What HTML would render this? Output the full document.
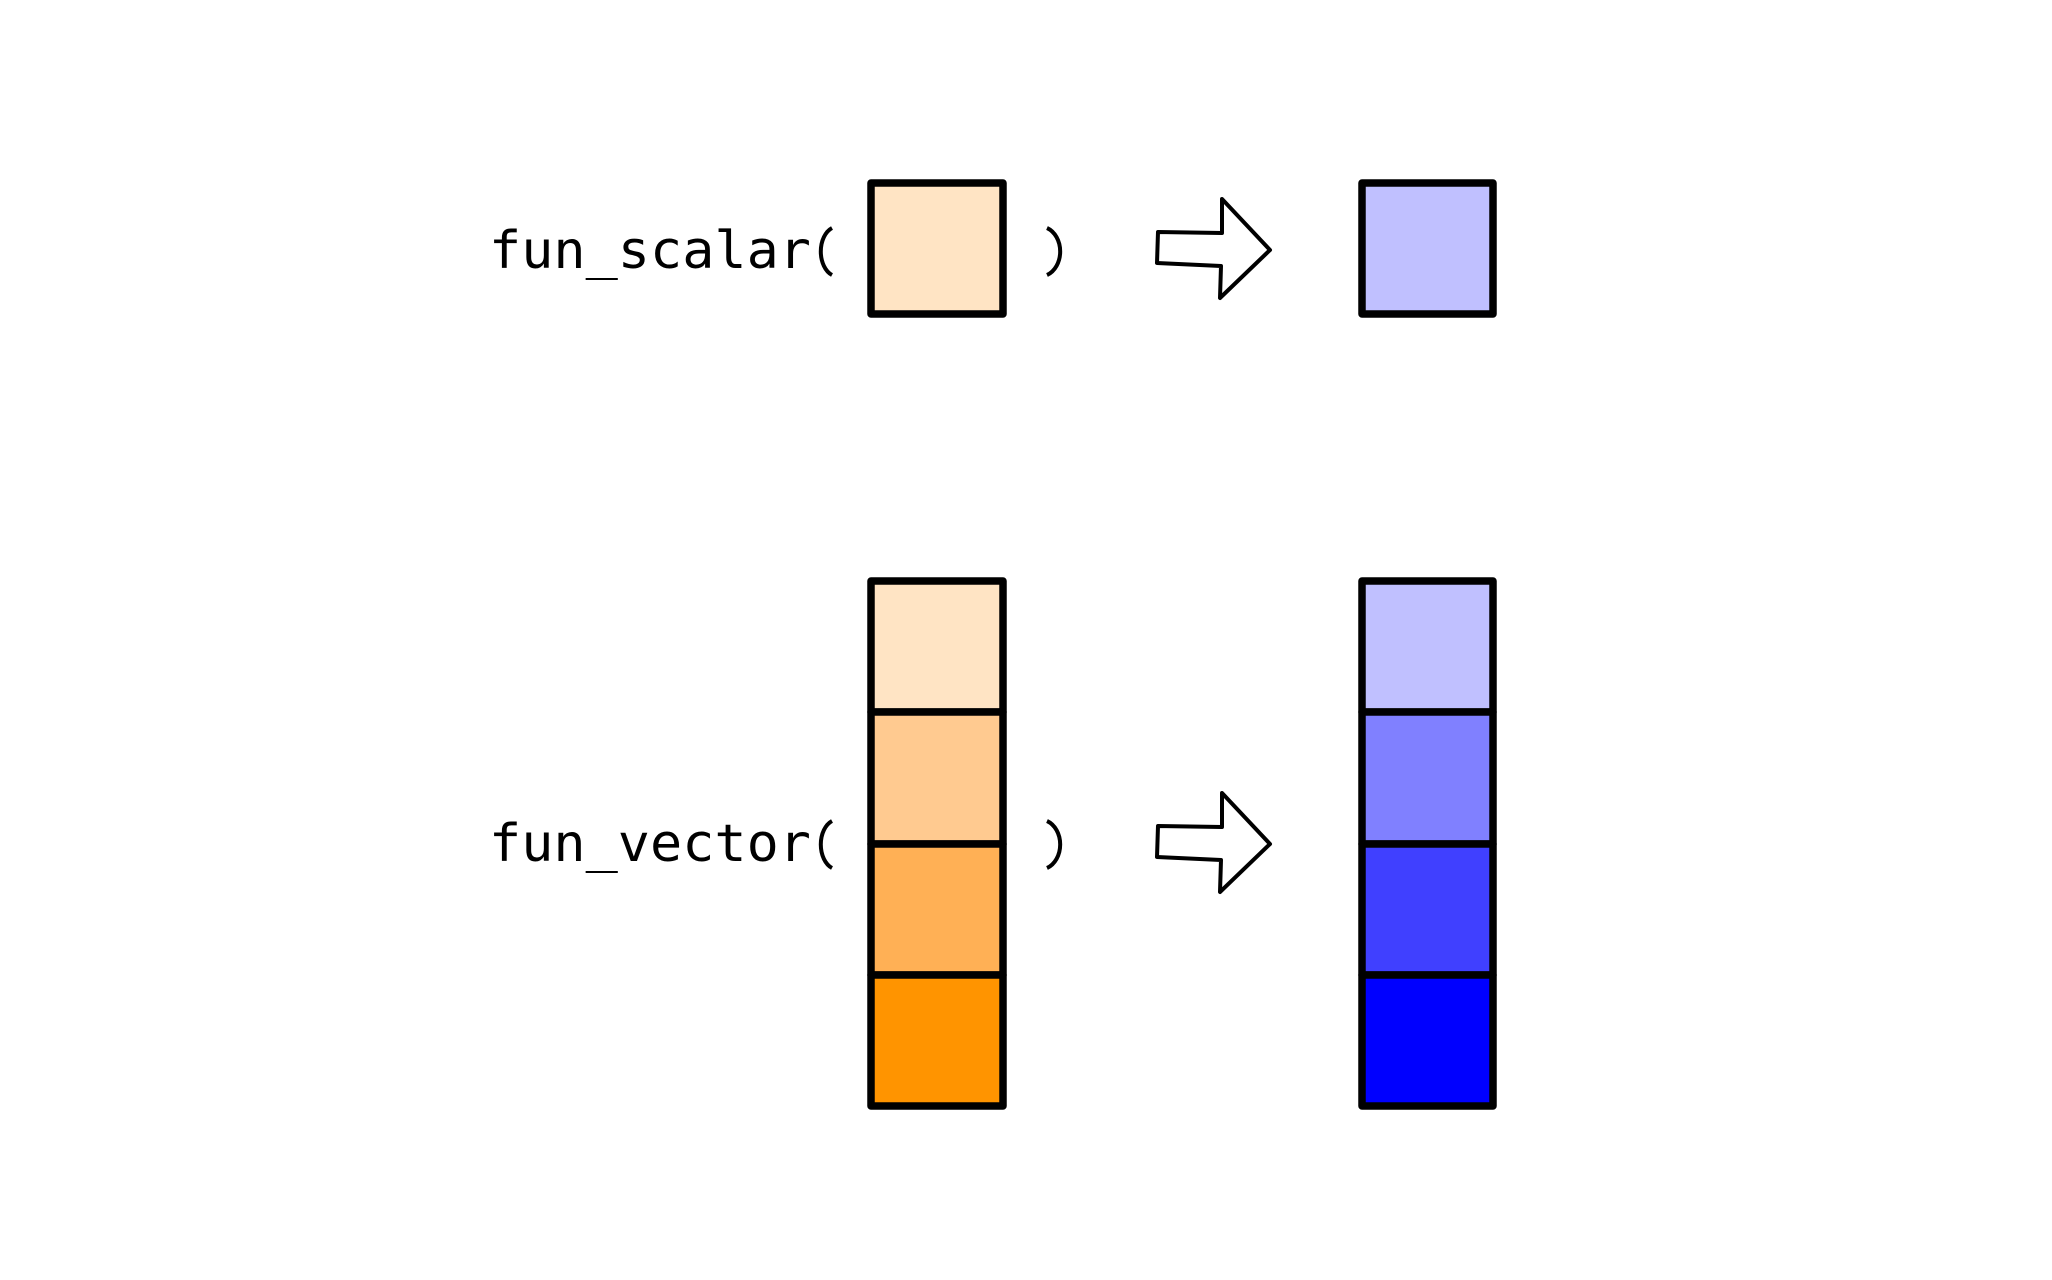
<!DOCTYPE html>
<html><head><style>html,body{margin:0;padding:0;background:#fff}svg{display:block}</style></head>
<body>
<svg width="2052" height="1280" viewBox="0 0 2052 1280" xmlns="http://www.w3.org/2000/svg">
<g font-family="DejaVu Sans Mono, Liberation Mono, monospace" font-size="52" fill="#000">
<text x="489" y="268" textLength="322" lengthAdjust="spacingAndGlyphs">fun_scalar</text>
<text x="489" y="861" textLength="322" lengthAdjust="spacingAndGlyphs">fun_vector</text>
</g>
<g fill="none" stroke="#000" stroke-width="4">
<path d="M832,228 A17,25 0 0 0 832,275"/>
<path d="M832,821 A17,25 0 0 0 832,868"/>
<path d="M1047,228 A20,25 0 0 1 1047,275"/>
<path d="M1047,821 A20,25 0 0 1 1047,868"/>
</g>
<g stroke="#000" stroke-width="7.5" stroke-linejoin="round">
<rect x="871" y="183" width="132" height="131" fill="#FFE4C4"/>
<rect x="1362" y="183" width="131" height="131" fill="#C0C0FF"/>
<rect x="871" y="581" width="132" height="131" fill="#FFE4C4"/>
<rect x="871" y="712" width="132" height="132" fill="#FFCA90"/>
<rect x="871" y="844" width="132" height="131" fill="#FFB055"/>
<rect x="871" y="975" width="132" height="131" fill="#FF9400"/>
<rect x="1362" y="581" width="131" height="131" fill="#C0C0FF"/>
<rect x="1362" y="712" width="131" height="132" fill="#8080FF"/>
<rect x="1362" y="844" width="131" height="131" fill="#4040FF"/>
<rect x="1362" y="975" width="131" height="131" fill="#0000FF"/>
</g>
<g fill="#fff" stroke="#000" stroke-width="4" stroke-linejoin="round">
<polygon points="1158,232 1222,233 1222,199 1270,250 1220,298 1221,266 1157,263"/>
<polygon points="1158,826 1222,827 1222,793 1270,844 1220,892 1221,860 1157,857"/>
</g>
</svg>
</body></html>
